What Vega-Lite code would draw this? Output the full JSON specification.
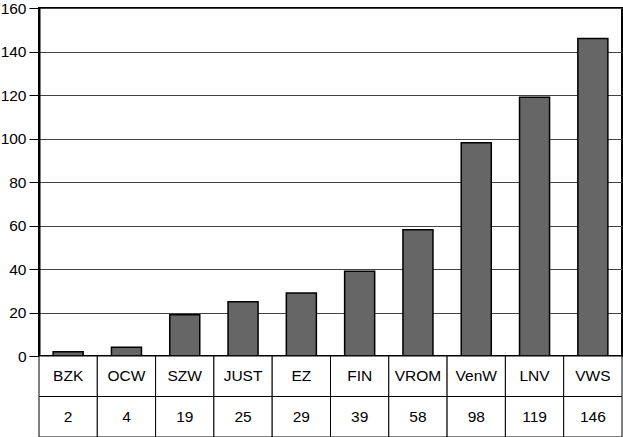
{
  "$schema": "https://vega.github.io/schema/vega-lite/v6.json",
  "autosize": {"type": "pad"},
  "padding": {"left": -1, "top": 0, "right": 0, "bottom": 0},
  "background": "white",
  "bounds": "flush",
  "data": {"values": [
    {"dept": "BZK", "count": 2},
    {"dept": "OCW", "count": 4},
    {"dept": "SZW", "count": 19},
    {"dept": "JUST", "count": 25},
    {"dept": "EZ", "count": 29},
    {"dept": "FIN", "count": 39},
    {"dept": "VROM", "count": 58},
    {"dept": "VenW", "count": 98},
    {"dept": "LNV", "count": 119},
    {"dept": "VWS", "count": 146}
  ]},
  "spacing": 0,
  "resolve": {"scale": {"x": "independent", "y": "independent"}},
  "vconcat": [
    {
      "width": 583,
      "height": 348,
      "view": {"stroke": "black", "strokeWidth": 2},
      "mark": {"type": "bar", "fill": "#666666", "stroke": "black", "strokeWidth": 1.5},
      "encoding": {
        "x": {"field": "dept", "type": "nominal", "sort": null,
              "scale": {"paddingInner": 0.485, "paddingOuter": 0.2425}, "axis": null},
        "y": {"field": "count", "type": "quantitative",
              "scale": {"domain": [0, 160], "nice": false},
              "axis": {"values": [0, 20, 40, 60, 80, 100, 120, 140, 160], "title": null,
                       "domain": true, "domainColor": "black", "domainWidth": 2,
                       "ticks": true, "tickSize": 10, "tickColor": "black", "tickWidth": 1,
                       "grid": true, "gridColor": "#444444", "gridWidth": 1,
                       "labelFont": "Liberation Sans", "labelFontSize": 15.5, "labelColor": "black",
                       "labelPadding": 3}}
      }
    },
    {
      "width": 583,
      "height": 81,
      "view": {"stroke": null},
      "transform": [{"fold": ["dept", "count"], "as": ["row", "cell"]}],
      "encoding": {
        "x": {"field": "dept", "type": "nominal", "sort": null,
              "scale": {"paddingInner": 0, "paddingOuter": 0}, "axis": null},
        "y": {"field": "row", "type": "nominal", "sort": ["dept", "count"],
              "scale": {"paddingInner": 0, "paddingOuter": 0}, "axis": null}
      },
      "layer": [
        {"mark": {"type": "rect", "fill": "white", "stroke": "black", "strokeWidth": 1}},
        {"mark": {"type": "text", "font": "Liberation Sans", "fontSize": 15.5, "color": "black", "baseline": "middle", "align": "center"},
         "encoding": {"text": {"field": "cell", "type": "nominal"}}}
      ]
    }
  ]
}
